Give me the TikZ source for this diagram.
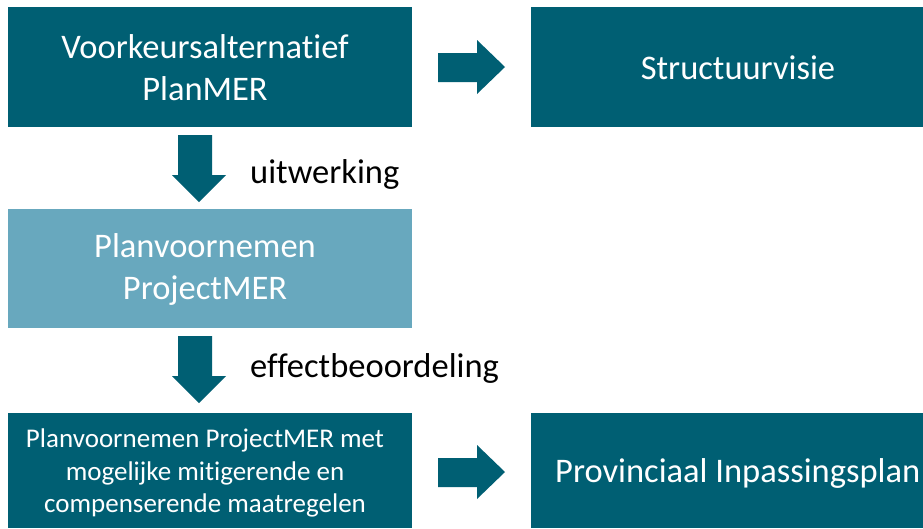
\documentclass[tikz,border=0pt]{standalone}
\usepackage{fontspec}
\setmainfont{Carlito}[RawFeature=-liga]
\usetikzlibrary{shapes.arrows}
\definecolor{dteal}{RGB}{0,95,115}
\definecolor{lteal}{RGB}{104,168,190}
\tikzset{
  box/.style={draw=none, text=white, align=center, inner sep=0pt},
  bigtxt/.style={font=\fontsize{34.5}{42}\selectfont},
  smalltxt/.style={font=\fontsize{27}{32.5}\selectfont},
  lbl/.style={text=black, anchor=west, inner sep=0pt, font=\fontsize{34.5}{42}\selectfont},
  arr/.style={fill=dteal, draw=none},
}
\begin{document}
\begin{tikzpicture}[x=1pt,y=-1pt]
\useasboundingbox (0,0) rectangle (923,528);
\fill[white] (0,0) rectangle (923,528);
% boxes
\fill[dteal] (8,7) rectangle (412,127);
\node[box,bigtxt] (b1) at (205,68) {Voorkeursalternatief\\PlanMER};
\fill[dteal] (531,7) rectangle (923,127);
\node[box,bigtxt] (b2) at (738,68) {Structuurvisie};
\fill[lteal] (8,209) rectangle (412,328);
\node[box,bigtxt] (b3) at (205,269) {Planvoornemen\\ProjectMER};
\fill[dteal] (8,413) rectangle (412,528);
\node[box,smalltxt] (b4) at (205,473) {Planvoornemen ProjectMER met\\mogelijke mitigerende en\\compenserende maatregelen};
\fill[dteal] (531,413) rectangle (923,528);
\node[box,bigtxt,anchor=west] (b5) at (555,473) {Provinciaal Inpassingsplan};
% arrows
\fill[arr] (438,53) -- (477,53) -- (477,40) -- (505,67) -- (477,94) -- (477,82) -- (438,82) -- cycle;
\fill[arr] (438,458) -- (477,458) -- (477,445) -- (505,472) -- (477,499) -- (477,487) -- (438,487) -- cycle;
\fill[arr] (178,135) -- (212,135) -- (212,175) -- (226,175) -- (199,202) -- (172,175) -- (178,175) -- cycle;
\fill[arr] (178,336) -- (212,336) -- (212,376) -- (226,376) -- (199,403) -- (172,376) -- (178,376) -- cycle;
% labels
\node[lbl] (l1) at (250,174) {uitwerking};
\node[lbl] (l2) at (250,368) {effectbeoordeling};
\end{tikzpicture}
\end{document}
